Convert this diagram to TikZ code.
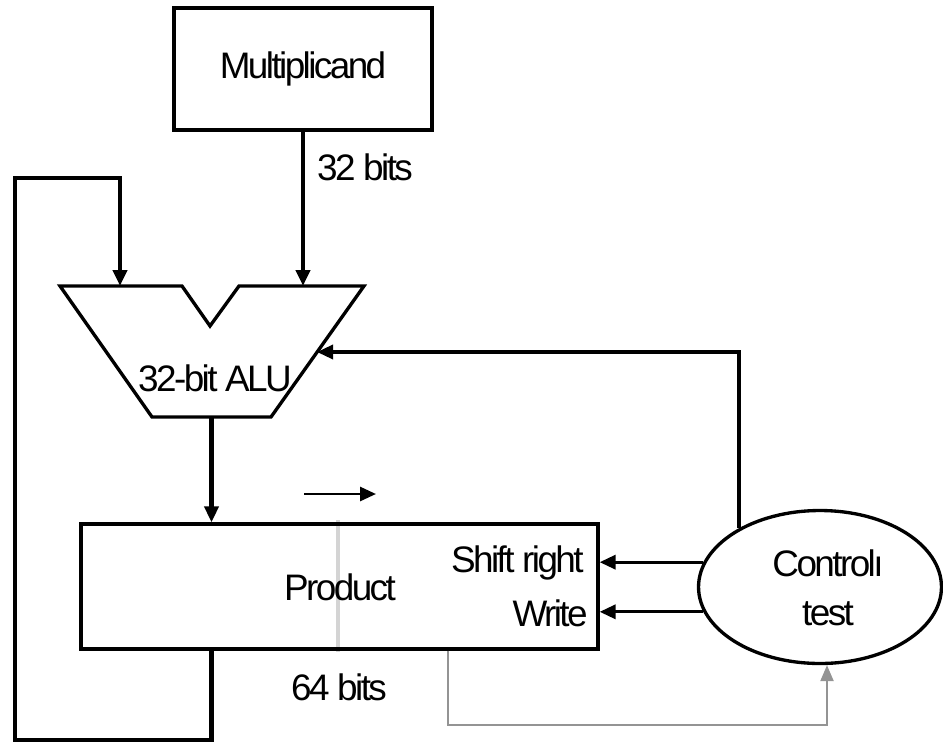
\documentclass[tikz,border=0pt]{standalone}
\usepackage{fontspec}
\setmainfont{Liberation Sans}[LetterSpace=-7]
\usetikzlibrary{arrows.meta,shapes.geometric}
\begin{document}
\begin{tikzpicture}[x=0.02cm,y=-0.02cm,
  every node/.style={font=\fontsize{21}{28}\selectfont},
  lbl/.style={inner sep=0pt},
  box/.style={draw, line width=1.9pt, inner sep=0pt},
  alushape/.style={draw, line width=1.9pt, line join=miter},
  bus/.style={line width=2.8pt, -{Triangle[length=0.32cm,width=0.28cm]}},
  ctl/.style={line width=1.9pt, -{Triangle[length=0.32cm,width=0.28cm]}},
  gry/.style={line width=1.3pt, draw=black!42, -{Triangle[length=0.32cm,width=0.26cm]}},
  sepline/.style={line width=1.8pt, draw=black!17}
]
\useasboundingbox (0,0) rectangle (943,744);

% separator inside product register
\draw[sepline] (338,520) -- (338,652);

% boxes
\node[box, minimum width=5.16cm, minimum height=2.44cm] (mult) at (303,69) {Multiplicand};
\node[box, minimum width=10.34cm, minimum height=2.5cm] (prod) at (339.5,586.5) {};
\node[draw, ellipse, line width=1.9pt, minimum width=4.86cm, minimum height=3.06cm] (ctrl) at (820,587) {};

% ALU
\draw[alushape] (60,286) -- (182,286) -- (210,326) -- (239,286) -- (364,286) -- (271,417) -- (152,417) -- cycle;
\coordinate (aluL) at (120,286);
\coordinate (aluR) at (302,286);
\coordinate (aluC) at (317,352);
\coordinate (aluO) at (211.5,417);

% texts
\node[lbl] (alutxt) at (215,378) {32-bit ALU};
\node[lbl] (b32) at (365,167) {32 bits};
\node[lbl] (b64) at (339,687) {64 bits};
\node[lbl] (ptxt) at (340,587) {Product};
\node[lbl, anchor=east] (shtxt) at (584,563) {Shift right};
\node[lbl, anchor=east] (wrtxt) at (588,613) {Write};
\node[lbl, align=center] (ctxt) at (828,588) {Controlı\\test};

% data paths
\draw[bus] (mult.south) -- (mult.south |- aluR);
\draw[bus] (aluO) -- (aluO |- prod.north);
\coordinate (lb1) at (15,740);
\coordinate (lt1) at (15,178);
\draw[bus] (prod.south -| aluO) |- (lb1) -- (lt1) -| (aluL);

% control
\draw[ctl] (ctrl.144.6) |- (aluC);
\draw[ctl] (ctrl.168) -- (ctrl.168 -| prod.east);
\draw[ctl] (ctrl.192) -- (ctrl.192 -| prod.east);

% shift direction arrow
\coordinate (sa) at (304,494);
\coordinate (sb) at (376,494);
\draw[line width=1.6pt, -{Triangle[length=0.32cm,width=0.28cm]}] (sa) -- (sb);

% gray test line
\coordinate (gb) at (827,725);
\draw[gry] ([xshift=2.17cm]prod.south) |- (gb) -- (gb |- ctrl.south);
\end{tikzpicture}
\end{document}
